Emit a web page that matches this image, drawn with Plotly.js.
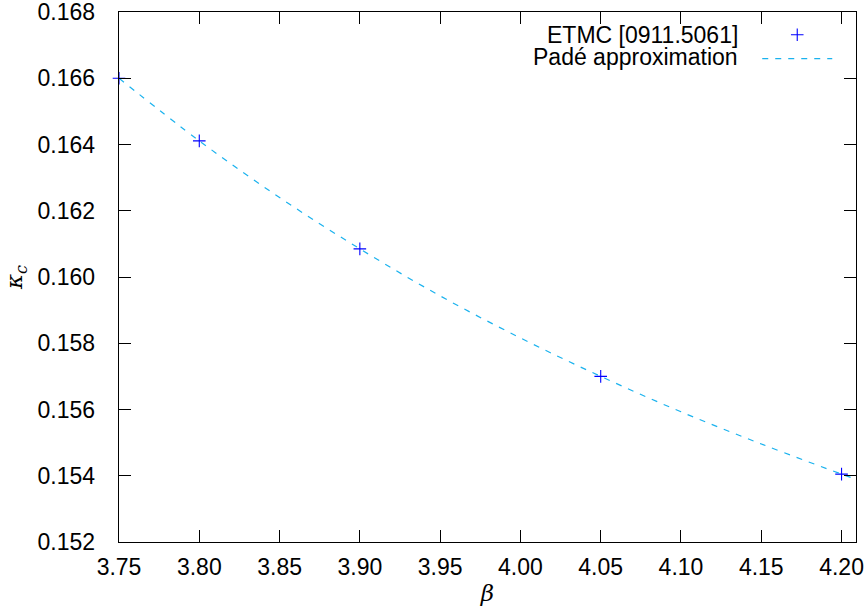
<!DOCTYPE html>
<html>
<head>
<meta charset="utf-8">
<script src="https://cdn.plot.ly/plotly-3.0.1.min.js"></script>
<style>
  html, body { margin: 0; padding: 0; background: #fff; }
  #chart { width: 866px; height: 616px; }
</style>
</head>
<body>
<div id="chart"></div>
<script>
// ETMC data points
const beta = [3.75, 3.80, 3.90, 4.05, 4.20];
const kappaC = [0.16600, 0.16411, 0.16085, 0.15700, 0.15405];

// Padé approximation curve
const padeBeta = [3.75, 3.80, 3.85, 3.90, 3.95, 4.00, 4.05, 4.10, 4.15, 4.20, 4.21];
const padeKappa = [0.16600, 0.16411, 0.16240, 0.16085, 0.15943, 0.15816, 0.15700, 0.15593, 0.15496, 0.15405, 0.15388];

const legendLabels = ['ETMC [0911.5061]', 'Padé approximation'];

const FONT = 'Liberation Sans, Arial, sans-serif';

const traces = [
  {
    x: beta, y: kappaC,
    type: 'scatter', mode: 'markers',
    name: '\u00a0',
    marker: { symbol: 'cross-thin', size: 9, color: '#0000ff', line: { color: '#0000ff', width: 1.1 } },
    cliponaxis: false
  },
  {
    x: padeBeta, y: padeKappa,
    type: 'scatter', mode: 'lines',
    name: '\u00a0',
    line: { color: '#1ab2ee', width: 1.2, dash: '6px,7px', shape: 'spline' }
  }
];

const axisCommon = {
  showgrid: false, zeroline: false,
  showline: true, linecolor: '#000', linewidth: 1.3,
  mirror: 'allticks',
  ticks: 'inside', ticklen: 12, tickwidth: 1, tickcolor: '#000',
  ticklabeloverflow: 'allow',
  tickfont: { family: FONT, size: 23, color: '#000' }
};

const layout = {
  width: 866, height: 616,
  margin: { l: 119, r: 10, t: 12, b: 74 },
  paper_bgcolor: '#fff', plot_bgcolor: '#fff',
  font: { family: FONT, size: 23, color: '#000' },
  xaxis: Object.assign({}, axisCommon, {
    range: [3.75, 4.209], dtick: 0.05, tick0: 3.75, tickformat: '.2f',
    ticklabelstandoff: 4,
    title: { text: '<i>β</i>', font: { family: 'DejaVu Serif, serif', size: 23, color: '#000' }, standoff: 6 }
  }),
  yaxis: Object.assign({}, axisCommon, {
    range: [0.152, 0.168], dtick: 0.002, tick0: 0.152, tickformat: '.3f',
    ticklabelstandoff: 18,
    title: { text: '<i>κ<sub>c</sub></i>', font: { family: 'DejaVu Serif, serif', size: 23, color: '#000' }, standoff: 8 }
  }),
  showlegend: true,
  legend: {
    x: 0.866, y: 0.989, xanchor: 'left', yanchor: 'top',
    bgcolor: 'rgba(0,0,0,0)', borderwidth: 0,
    itemwidth: 70,
    font: { family: FONT, size: 16 },
    tracegroupgap: 0
  },
  annotations: [
    { xref: 'paper', yref: 'paper', x: (739 - 119) / 737, y: (542 - 35) / 530.3, xanchor: 'right', yanchor: 'middle',
      borderpad: 0,
      text: legendLabels[0], showarrow: false, font: { family: FONT, size: 23, color: '#000' } },
    { xref: 'paper', yref: 'paper', x: (739 - 119) / 737, y: (542 - 57) / 530.3, xanchor: 'right', yanchor: 'middle',
      borderpad: 0,
      text: legendLabels[1], showarrow: false, font: { family: FONT, size: 23, color: '#000' } }
  ]
};

Plotly.newPlot('chart', traces, layout, { displayModeBar: false, staticPlot: true });
</script>
</body>
</html>
